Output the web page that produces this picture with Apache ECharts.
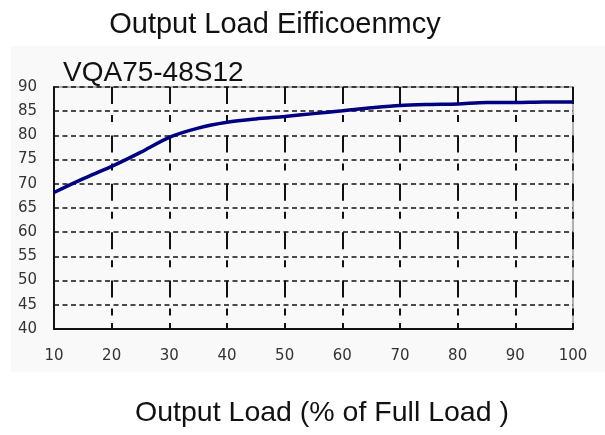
<!DOCTYPE html>
<html>
<head>
<meta charset="utf-8">
<script src="https://cdn.jsdelivr.net/npm/echarts@6/dist/echarts.min.js"></script>
<style>
  html, body { margin: 0; padding: 0; background: #fff; }
  #chart { width: 605px; height: 435px; }
</style>
</head>
<body>
<div id="chart"></div>
<script>
  // load (% of full load) vs efficiency (%)
  const loadPct = [10, 15, 20, 25, 30, 35, 40, 45, 50, 55, 60, 65, 70, 75, 80, 85, 90, 95, 100];
  const efficiency = [68.2, 71.0, 73.6, 76.5, 79.6, 81.5, 82.7, 83.4, 83.9, 84.5, 85.1, 85.7, 86.2, 86.4, 86.5, 86.8, 86.8, 86.9, 86.9];
  const chartTitle = 'Output Load Eifficoenmcy';
  const modelName = 'VQA75-48S12';
  const xName = 'Output Load (% of Full Load )';

  let myChart = echarts.init(document.getElementById('chart'));
  let option = {
    backgroundColor: '#fff',
    animation: false,
    graphic: [
      {
        type: 'rect',
        z: -10,
        shape: { x: 11, y: 46, width: 594, height: 326 },
        style: { fill: '#f9f9f9' }
      }
    ],
    title: [
      {
        text: chartTitle,
        left: 270,
        textAlign: 'center',
        top: 5,
        textStyle: { fontFamily: 'Liberation Sans', fontSize: 29, fontWeight: 'normal', color: '#111' }
      },
      {
        text: modelName,
        left: 58,
        top: 54,
        textStyle: { fontFamily: 'Liberation Sans', fontSize: 28, fontWeight: 'normal', color: '#111' }
      }
    ],
    grid: {
      left: 54,
      right: 32,
      top: 87,
      bottom: 106,
      show: true,
      backgroundColor: 'transparent',
      borderColor: '#999',
      borderWidth: 1.5
    },
    xAxis: {
      type: 'value',
      min: 10,
      max: 100,
      interval: 10,
      name: xName,
      nameLocation: 'middle',
      nameGap: 70,
      nameTextStyle: { fontFamily: 'Liberation Sans', fontSize: 28.5, color: '#111', padding: [0, 0, 0, 17] },
      axisLine: { show: true, lineStyle: { color: '#111', width: 2 } },
      axisTick: { show: true, inside: true, length: 6, lineStyle: { color: '#111', width: 2 } },
      axisLabel: { fontFamily: 'DejaVu Sans', fontSize: 15, color: '#333', margin: 20 },
      splitLine: {
        show: true,
        lineStyle: { color: '#111', width: 2, type: [17, 11, 7, 13.4] }
      }
    },
    yAxis: {
      type: 'value',
      min: 40,
      max: 90,
      interval: 5,
      axisLine: { show: true, lineStyle: { color: '#111', width: 2 } },
      axisTick: { show: false },
      axisLabel: { fontFamily: 'DejaVu Sans', fontSize: 15, color: '#333', margin: 17 },
      splitLine: {
        show: true,
        lineStyle: { color: '#111', width: 1.5, type: [5, 3.5] }
      }
    },
    series: [
      {
        type: 'line',
        data: loadPct.map((x, i) => [x, efficiency[i]]),
        showSymbol: false,
        smooth: 0.3,
        lineStyle: { color: '#000080', width: 3.5 },
        z: 5
      }
    ]
  };
  myChart.setOption(option);
</script>
</body>
</html>
